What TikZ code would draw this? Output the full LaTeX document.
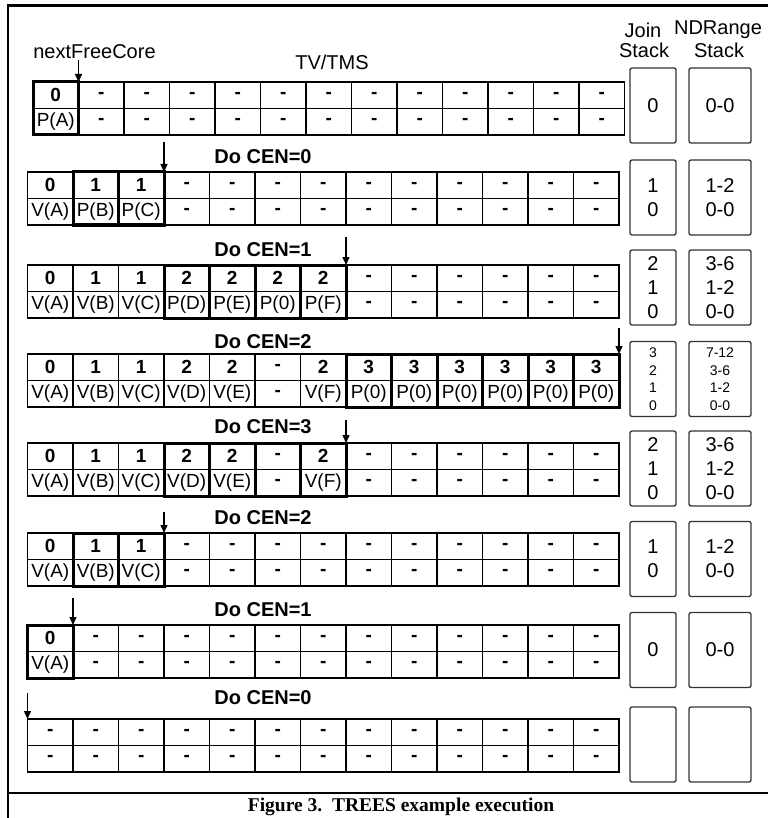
\documentclass[tikz,border=0pt]{standalone}
\usepackage{fontspec}
\setmainfont{Liberation Sans}
\newfontfamily\capfont{Liberation Serif}
\usetikzlibrary{arrows.meta}

\newcommand{\dd}{\textbf{-}}
\newcommand{\tvrow}[5]{%
  \foreach \v [count=\i] in {#4} {
    \node[topcell] (#1t\i) at ({#2+(\i-0.5)*45.5},{#3+13.25}) {\v};
  }
  \foreach \v [count=\i] in {#5} {
    \node[cell] (#1b\i) at ({#2+(\i-0.5)*45.5},{#3+39.75}) {\v};
  }
}
\newcommand{\thickgroup}[3]{% row id, first col, last col
  \draw[thickbox] (#1t#2.north west) rectangle (#1b#3.south east);
  \foreach \k in {#2,...,#3} {
    \draw[thickbox] (#1t\k.north west) -- (#1b\k.south west);
  }
}

\begin{document}
\begin{tikzpicture}[x=1pt,y=-1pt,
  cell/.style={draw=black, line width=1.4pt, minimum width=45.5pt, minimum height=26.5pt,
    inner sep=0pt, outer sep=0pt, font=\fontsize{19}{20}\selectfont},
  topcell/.style={cell, font=\fontsize{19}{20}\selectfont\bfseries},
  thickbox/.style={draw=black, line width=3pt, line cap=rect},
  stackbox/.style={draw=black!80, line width=1.3pt, rounded corners=2pt, inner sep=0pt,
    outer sep=0pt, minimum height=75pt, align=center, font=\fontsize{20}{24}\selectfont},
  joinbox/.style={stackbox, minimum width=46pt},
  ndbox/.style={stackbox, minimum width=62pt},
  smallstack/.style={font=\fontsize{14}{17.5}\selectfont},
  ptr/.style={-{Triangle[length=8pt,width=7pt]}, line width=1.4pt},
  cenlabel/.style={font=\fontsize{20}{24}\selectfont\bfseries, inner sep=0pt},
  header/.style={font=\fontsize{20}{24}\selectfont, inner sep=0pt},
  frameline/.style={line width=2.6pt}
]
\useasboundingbox (0,0) rectangle (768,818);

% outer frame and caption
\draw[frameline] (768,5.5) -- (8,5.5) -- (8,818);
\draw[frameline] (8,793) -- (768,793);
\node[font=\capfont\bfseries\fontsize{19.5}{22}\selectfont, inner sep=0pt] (cap) at (401,807) {Figure 3.\ \ TREES example execution};

% headers
\node[header] (hnfc) at (94.5,52) {nextFreeCore};
\node[header] (htv) at (332,62) {TV/TMS};
\node[header] (hj1) at (643,30) {Join};
\node[header] (hj2) at (644,50) {Stack};
\node[header] (hn1) at (718,30) {NDRange};
\node[header] (hn2) at (719,50) {Stack};

% row 1
\tvrow{ra}{33}{82}{0,-,-,-,-,-,-,-,-,-,-,-,-}{P(A),\dd,\dd,\dd,\dd,\dd,\dd,\dd,\dd,\dd,\dd,\dd,\dd}
\thickgroup{ra}{1}{1}
\coordinate (pa) at (78.5,60);
\draw[ptr] (pa) -- (rat1.north east);
\node[joinbox] (ja) at (653,105.5) {0};
\node[ndbox] (na) at (720,105.5) {0-0};

% row 2
\node[cenlabel] (la) at (263,157) {Do CEN=0};
\tvrow{rb}{27.5}{172}{0,1,1,-,-,-,-,-,-,-,-,-,-}{V(A),P(B),P(C),\dd,\dd,\dd,\dd,\dd,\dd,\dd,\dd,\dd,\dd}
\thickgroup{rb}{2}{3}
\coordinate (pb) at (164,142);
\draw[ptr] (pb) -- (rbt3.north east);
\node[joinbox] (jb) at (653,197.5) {1\\0};
\node[ndbox] (nb) at (720,197.5) {1-2\\0-0};

% row 3
\node[cenlabel] (lb) at (263,250) {Do CEN=1};
\tvrow{rc}{27.5}{265}{0,1,1,2,2,2,2,-,-,-,-,-,-}{V(A),V(B),V(C),P(D),P(E),P(0),P(F),\dd,\dd,\dd,\dd,\dd,\dd}
\thickgroup{rc}{4}{7}
\coordinate (pc) at (346,237);
\draw[ptr] (pc) -- (rct7.north east);
\node[joinbox] (jc) at (653,287.5) {2\\1\\0};
\node[ndbox] (nc) at (720,287.5) {3-6\\1-2\\0-0};

% row 4
\node[cenlabel] (lc) at (263,342) {Do CEN=2};
\tvrow{rd}{27.5}{354}{0,1,1,2,2,-,2,3,3,3,3,3,3}{V(A),V(B),V(C),V(D),V(E),\dd,V(F),P(0),P(0),P(0),P(0),P(0),P(0)}
\thickgroup{rd}{8}{13}
\coordinate (pd) at (619,328);
\draw[ptr] (pd) -- (rdt13.north east);
\node[joinbox, smallstack] (jd) at (653,379) {3\\2\\1\\0};
\node[ndbox, smallstack] (nd) at (720,379) {7-12\\3-6\\1-2\\0-0};

% row 5
\node[cenlabel] (ld) at (263,427) {Do CEN=3};
\tvrow{re}{27.5}{443}{0,1,1,2,2,-,2,-,-,-,-,-,-}{V(A),V(B),V(C),V(D),V(E),\dd,V(F),\dd,\dd,\dd,\dd,\dd,\dd}
\thickgroup{re}{4}{7}
\coordinate (pe) at (346,420);
\draw[ptr] (pe) -- (ret7.north east);
\node[joinbox] (je) at (653,468.5) {2\\1\\0};
\node[ndbox] (ne) at (720,468.5) {3-6\\1-2\\0-0};

% row 6
\node[cenlabel] (le) at (263,518) {Do CEN=2};
\tvrow{rf}{27.5}{533}{0,1,1,-,-,-,-,-,-,-,-,-,-}{V(A),V(B),V(C),\dd,\dd,\dd,\dd,\dd,\dd,\dd,\dd,\dd,\dd}
\thickgroup{rf}{2}{3}
\coordinate (pf) at (164,512);
\draw[ptr] (pf) -- (rft3.north east);
\node[joinbox] (jf) at (653,559) {1\\0};
\node[ndbox] (nf) at (720,559) {1-2\\0-0};

% row 7
\node[cenlabel] (lf) at (263,610) {Do CEN=1};
\tvrow{rg}{27.5}{625}{0,-,-,-,-,-,-,-,-,-,-,-,-}{V(A),\dd,\dd,\dd,\dd,\dd,\dd,\dd,\dd,\dd,\dd,\dd,\dd}
\thickgroup{rg}{1}{1}
\coordinate (pg) at (73,598);
\draw[ptr] (pg) -- (rgt1.north east);
\node[joinbox] (jg) at (653,650) {0};
\node[ndbox] (ng) at (720,650) {0-0};

% row 8
\node[cenlabel] (lg) at (263,698) {Do CEN=0};
\tvrow{rh}{27.5}{719}{-,-,-,-,-,-,-,-,-,-,-,-,-}{\dd,\dd,\dd,\dd,\dd,\dd,\dd,\dd,\dd,\dd,\dd,\dd,\dd}
\coordinate (ph) at (27.5,693);
\draw[ptr] (ph) -- (rht1.north west);
\node[joinbox] (jh) at (653,744.5) {};
\node[ndbox] (nh) at (720,744.5) {};
\end{tikzpicture}
\end{document}
